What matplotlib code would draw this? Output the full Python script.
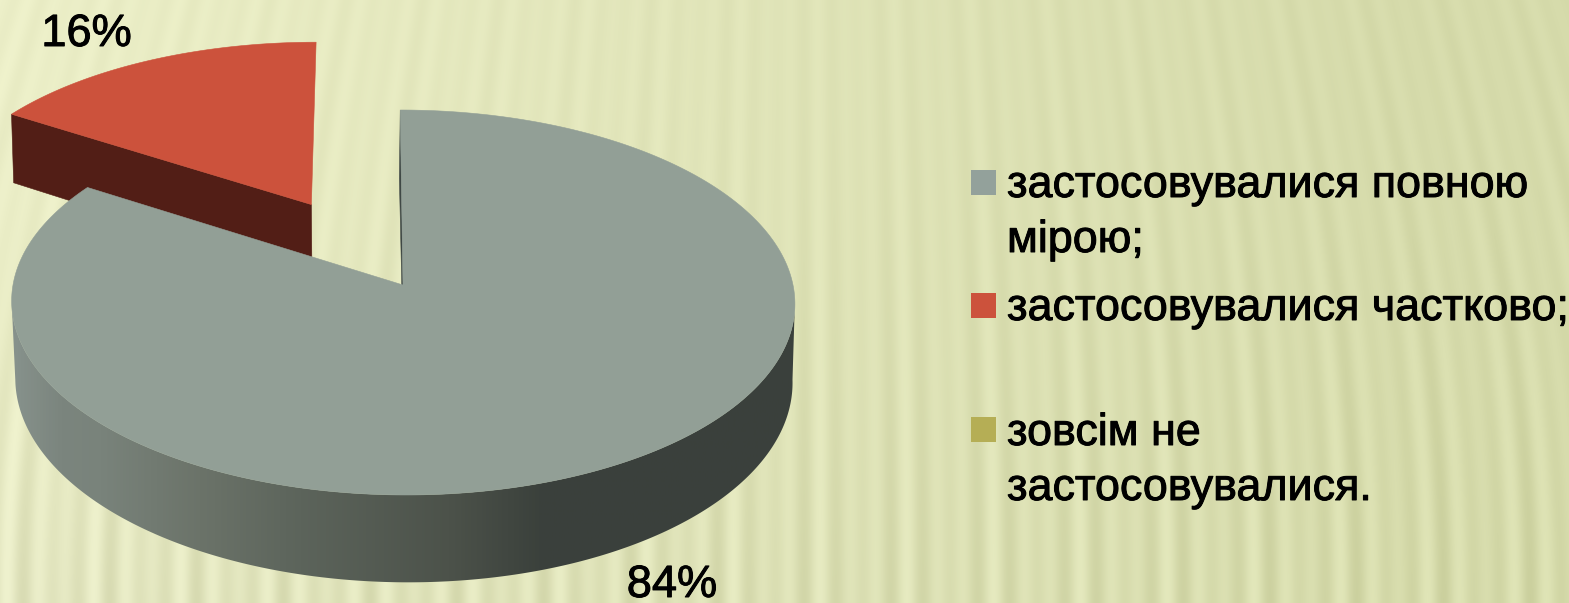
import numpy as np
import matplotlib
matplotlib.use("Agg")
import matplotlib.pyplot as plt
import matplotlib.patheffects as pe
from matplotlib.patches import Polygon, Rectangle
from matplotlib.colors import LinearSegmentedColormap, to_rgb

# --- data ---
categories = ["застосовувалися повною\nмірою;", "застосовувалися частково;", "зовсім не\nзастосовувалися."]
shares = [84, 16, 0]
pct_labels = ["84%", "16%"]
colors = ["#929f96", "#cc523c", "#b5ae55"]
legend_colors = ["#93a19b", "#cc523c", "#b5ae55"]

W, H = 1569, 603
plt.rcParams["font.family"] = ["Liberation Sans", "DejaVu Sans"]
fig = plt.figure(figsize=(W / 100, H / 100), dpi=100)
ax = fig.add_axes([0, 0, 1, 1])
ax.set_xlim(0, W)
ax.set_ylim(H, 0)
ax.axis("off")

# --- striped background ---
yy, xx = np.mgrid[0:H, 0:W]
xc = 800.0
phase = xx + (xx - xc) * 0.139 * ((600 - yy) / 600.0) ** 2
st = 0.6 * np.sin(2 * np.pi * phase / 29.0) + 0.4 * np.sin(2 * np.pi * phase / 43.0 + 1.0)
t = np.clip(xx / 1400.0, 0, 1)[..., None]
left = np.array(to_rgb("#ecefc8"))
right = np.array(to_rgb("#d6dbab"))
base = left * (1 - t) + right * t
# stripes strengthen towards the bottom of the picture
fy = (yy / H)[..., None]
amp = 0.012 + 0.032 * fy ** 1.5
shade = 1 - 0.035 * fy ** 2 * (1 - t)
bg = np.clip(base * shade + amp * st[..., None] * np.array([1, 1, 1.2]), 0, 1)
ax.imshow(bg, extent=(0, W, H, 0), aspect="auto", zorder=0, interpolation="bilinear")

# --- perspective pie geometry ---
k = 0.0909


def project(u, v, cx, y0, a, b, skew):
    w = 1 + k * v
    return cx + (a * u + skew * v) / w, y0 - b * v / w


def top(u, v):
    return project(u, v, 403.0, 285.0, 390.0, 190.9, -3.0)


def bottom(u, v):
    return project(u, v, 403.5, 362.0, 387.0, 200.3, -4.5)


def arc(t0, t1, n=300):
    a = np.radians(np.linspace(t0, t1, n))
    return np.sin(a), np.cos(a)


end_main = 360.0 * shares[0] / sum(shares)
end_red = end_main + 360.0 * shares[1] / sum(shares)
mid_red = np.radians((end_main + end_red) / 2)
explode = 0.5
ex, ey = explode * np.sin(mid_red), explode * np.cos(mid_red)


def poly(P, color, z):
    ax.add_patch(Polygon(np.column_stack(P), closed=True, facecolor=color, edgecolor=color, lw=0.4, zorder=z))


# exploded slice: radial wall then top
wu = np.array([np.sin(np.radians(end_main)) + ex, ex])
wv = np.array([np.cos(np.radians(end_main)) + ey, ey])
tx, ty = top(wu, wv)
bx, by = bottom(wu, wv)
poly((np.r_[tx, bx[::-1]], np.r_[ty, by[::-1]]), "#521e16", 2)

ru, rv = arc(end_main, end_red)
rx, ry = top(np.r_[ru + ex, ex], np.r_[rv + ey, ey])
poly((rx, ry), colors[1], 3)

# main slice: inner wall
iu = np.array([0.0, 0.0])
iv = np.array([1.0, 0.0])
tx, ty = top(iu, iv)
bx, by = bottom(iu, iv)
poly((np.r_[tx, bx[::-1]], np.r_[ty, by[::-1]]), "#3f4845", 4)

# main slice: curved side with horizontal gradient
su, sv = arc(95, 265)
tx, ty = top(su, sv)
bx, by = bottom(su, sv)
side = Polygon(np.column_stack([np.r_[tx, bx[::-1]], np.r_[ty, by[::-1]]]), closed=True, facecolor="none", edgecolor="none", transform=ax.transData)
ax.add_patch(side)
stops_x = np.array([12, 60, 100, 200, 300, 450, 540, 800], float)
stops_c = ["#87928c", "#7b857e", "#79837b", "#6b7369", "#5c645b", "#4c524a", "#3b413c", "#3a403c"]
cmap = LinearSegmentedColormap.from_list("side", [((x - 12) / (800 - 12), c) for x, c in zip(stops_x, stops_c)])
im = ax.imshow(np.linspace(0, 1, 512)[None, :], extent=(12, 800, 600, 200), aspect="auto", cmap=cmap, zorder=5)
im.set_clip_path(side)

# main slice: top
mu, mv = arc(0, end_main, 600)
mx, my = top(np.r_[mu, 0.0], np.r_[mv, 0.0])
poly((mx, my), colors[0], 6)

ax.set_xlim(0, W)
ax.set_ylim(H, 0)

weight = [pe.withStroke(linewidth=0.7, foreground="black")]

# --- percent labels ---
ax.text(672, 597, pct_labels[0], fontsize=32.5, ha="center", va="baseline", color="black", zorder=8, path_effects=weight)
ax.text(86.5, 46, pct_labels[1], fontsize=32.5, ha="center", va="baseline", color="black", zorder=8, path_effects=weight)

# --- legend ---
sq_y = [170, 293, 417]
baselines = [[197, 252], [320], [445, 500]]
for cat, col, sy, bl in zip(categories, legend_colors, sq_y, baselines):
    ax.add_patch(Rectangle((971, sy), 25, 25, facecolor=col, edgecolor="none", zorder=8))
    for line, yb in zip(cat.split("\n"), bl):
        ax.text(1007, yb, line, fontsize=32.3, ha="left", va="baseline", color="black", zorder=8, path_effects=weight)

fig.savefig("out.png", dpi=100)
